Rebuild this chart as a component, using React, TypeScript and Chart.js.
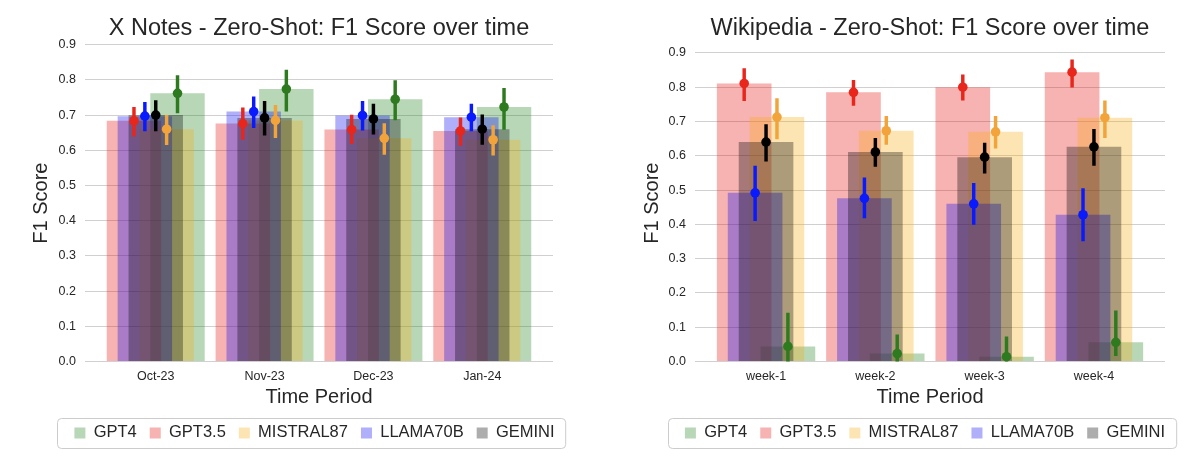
import { useEffect, useRef } from "react"
import { Chart, registerables, type ChartConfiguration, type Plugin } from "chart.js"

Chart.register(...registerables)
Chart.defaults.font.family = "'Liberation Sans', Arial, sans-serif"
Chart.defaults.color = "#262626"

// models, in legend order
const models = ["GPT4", "GPT3.5", "MISTRAL87", "LLAMA70B", "GEMINI"]
const yTicks = [0, 0.1, 0.2, 0.3, 0.4, 0.5, 0.6, 0.7, 0.8, 0.9]

// X Notes panel
const xNotesPeriods = ["Oct-23", "Nov-23", "Dec-23", "Jan-24"]
const xNotesMeans = [
  [0.762, 0.774, 0.745, 0.723], // GPT4
  [0.684, 0.676, 0.659, 0.655], // GPT3.5
  [0.66, 0.685, 0.634, 0.63], // MISTRAL87
  [0.697, 0.71, 0.699, 0.694], // LLAMA70B
  [0.7, 0.692, 0.689, 0.66], // GEMINI
]
const xNotesLows = [
  [0.706, 0.711, 0.686, 0.659],
  [0.64, 0.631, 0.619, 0.614],
  [0.616, 0.636, 0.588, 0.586],
  [0.655, 0.664, 0.657, 0.655],
  [0.655, 0.643, 0.646, 0.617],
]
const xNotesHighs = [
  [0.812, 0.828, 0.798, 0.776],
  [0.722, 0.721, 0.7, 0.692],
  [0.699, 0.728, 0.676, 0.67],
  [0.736, 0.752, 0.739, 0.731],
  [0.741, 0.739, 0.731, 0.701],
]

// Wikipedia panel
const wikiPeriods = ["week-1", "week-2", "week-3", "week-4"]
const wikiMeans = [
  [0.044, 0.023, 0.014, 0.056],
  [0.811, 0.785, 0.8, 0.844],
  [0.713, 0.673, 0.67, 0.711],
  [0.492, 0.476, 0.46, 0.428],
  [0.64, 0.611, 0.596, 0.626],
]
const wikiLows = [
  [-0.05, -0.03, -0.04, 0.017],
  [0.761, 0.747, 0.762, 0.8],
  [0.649, 0.633, 0.622, 0.653],
  [0.411, 0.419, 0.4, 0.352],
  [0.584, 0.569, 0.549, 0.572],
]
const wikiHighs = [
  [0.141, 0.078, 0.072, 0.148],
  [0.854, 0.82, 0.836, 0.88],
  [0.767, 0.715, 0.715, 0.76],
  [0.57, 0.536, 0.52, 0.504],
  [0.691, 0.651, 0.637, 0.677],
]

// styling per model (same order as models)
const barColors = [
  "rgba(30, 130, 30, 0.32)",
  "rgba(230, 20, 20, 0.33)",
  "rgba(250, 175, 20, 0.32)",
  "rgba(20, 20, 240, 0.34)",
  "rgba(0, 0, 0, 0.32)",
]
const pointColors = ["#2e7a1e", "#e8261c", "#f2a33a", "#0a1aff", "#000000"]
const dodge = [0.2, -0.2, 0.1, -0.1, 0]
const drawOrder = [6, 5, 4, 3, 2]

const ink = "#262626"

const legendFrame: Plugin = {
  id: "legendFrame",
  beforeDraw(chart) {
    const boxes = (chart.legend as any)?.legendHitBoxes
    if (!boxes || !boxes.length) return
    const first = boxes[0]
    const last = boxes[boxes.length - 1]
    const left = first.left - 17
    const right = last.left + last.width + 11
    const cy = first.top + first.height / 2
    const ctx = chart.ctx
    ctx.save()
    ctx.beginPath()
    ctx.roundRect(Math.round(left) + 0.5, Math.round(cy - 15) + 0.5, right - left, 30, 4)
    ctx.fillStyle = "#ffffff"
    ctx.fill()
    ctx.strokeStyle = "#cccccc"
    ctx.lineWidth = 1
    ctx.stroke()
    ctx.restore()
  },
}

interface PanelProps {
  title: string
  periods: string[]
  means: number[][]
  lows: number[][]
  highs: number[][]
  yMax: number
  left: number
  width: number
  axisWidth: number
  rightWidth: number
  yTitlePad: number
}

function Panel({ title, periods, means, lows, highs, yMax, left, width, axisWidth, rightWidth, yTitlePad }: PanelProps) {
  const canvasRef = useRef<HTMLCanvasElement>(null)

  useEffect(() => {
    if (!canvasRef.current) return

    const bars = models.map((name, m) => ({
      type: "bar" as const,
      label: name,
      data: periods.map((_, i) => ({ x: i + dodge[m], y: means[m][i] })),
      backgroundColor: barColors[m],
      borderColor: "transparent",
      borderWidth: 0,
      grouped: false,
      barPercentage: 5,
      categoryPercentage: 1,
      order: drawOrder[m],
      clip: 0,
    }))

    const errors = models.map((name, m) => ({
      type: "bar" as const,
      label: name + " ci",
      data: periods.map((_, i) => ({ x: i + dodge[m], y: [lows[m][i], highs[m][i]] })),
      backgroundColor: pointColors[m],
      borderWidth: 0,
      grouped: false,
      barPercentage: 1,
      categoryPercentage: 1,
      maxBarThickness: 2.8,
      order: 1,
      clip: 0,
    }))

    const points = models.map((name, m) => ({
      type: "scatter" as const,
      label: name + " mean",
      data: periods.map((_, i) => ({ x: i + dodge[m], y: means[m][i] })),
      backgroundColor: pointColors[m],
      borderColor: pointColors[m],
      borderWidth: 0,
      pointRadius: 4.8,
      pointHoverRadius: 4.8,
      order: 0,
    }))

    const config: ChartConfiguration = {
      type: "bar",
      data: { datasets: [...bars, ...errors, ...points] as any },
      options: {
        responsive: false,
        animation: false,
        events: [],
        layout: { padding: { left: 0, right: 0, top: 0, bottom: 7.85 } },
        scales: {
          x: {
            type: "linear",
            min: -0.65,
            max: 3.65,
            offset: false,
            grid: { display: false, drawTicks: false, offset: false },
            border: { display: false },
            afterBuildTicks: (s) => {
              s.ticks = periods.map((_, i) => ({ value: i }))
            },
            ticks: {
              padding: 8,
              color: ink,
              font: { size: 12.5 },
              autoSkip: false,
              maxRotation: 0,
              callback: (v) => periods[Math.round(Number(v))] ?? "",
            },
            title: {
              display: true,
              text: "Time Period",
              color: ink,
              font: { size: 20 },
              padding: { top: 0, bottom: 2.25 },
            },
            afterFit: (s) => {
              s.height = 50.15
            },
          },
          x2: {
            type: "linear",
            position: "top",
            min: 0,
            max: 1,
            grid: { display: false, drawTicks: false },
            border: { display: false },
            ticks: { display: false },
            title: {
              display: true,
              text: title,
              color: ink,
              font: { size: 23.5 },
              padding: { top: 14.5, bottom: 0 },
            },
            afterFit: (s) => {
              s.height = 44.7
            },
          },
          y: {
            type: "linear",
            position: "left",
            min: 0,
            max: yMax,
            grid: { color: "#d0d0d0", lineWidth: 1, drawTicks: false },
            border: { display: false },
            afterBuildTicks: (s) => {
              s.ticks = yTicks.map((v) => ({ value: v }))
            },
            ticks: {
              padding: 9,
              color: ink,
              font: { size: 12.5 },
              callback: (v) => Number(v).toFixed(1),
            },
            title: {
              display: true,
              text: "F1 Score",
              color: ink,
              font: { size: 20 },
              padding: { top: yTitlePad, bottom: 0 },
            },
            afterFit: (s) => {
              s.width = axisWidth
            },
          },
          yR: {
            type: "linear",
            position: "right",
            min: 0,
            max: 1,
            grid: { display: false, drawTicks: false },
            border: { display: false },
            ticks: { display: false },
            afterFit: (s) => {
              s.width = rightWidth
            },
          },
        },
        plugins: {
          tooltip: { enabled: false },
          title: { display: false },
          legend: {
            position: "bottom",
            labels: {
              boxWidth: 11,
              boxHeight: 11,
              padding: 13,
              color: ink,
              font: { size: 16.5 },
              filter: (item) => (item.datasetIndex ?? 0) < models.length,
              sort: (a, b) => (a.datasetIndex ?? 0) - (b.datasetIndex ?? 0),
            },
          },
        },
      },
      plugins: [legendFrame],
    }

    const chart = new Chart(canvasRef.current, config)
    return () => chart.destroy()
  }, [title, periods, means, lows, highs, yMax, axisWidth, rightWidth, yTitlePad])

  return (
    <canvas
      ref={canvasRef}
      width={width}
      height={459}
      style={{ position: "absolute", left, top: 0, width, height: 459 }}
    />
  )
}

export default function App() {
  return (
    <div
      style={{
        position: "absolute",
        left: 0,
        top: 0,
        width: 1200,
        height: 459,
        overflow: "hidden",
        background: "#ffffff",
      }}
    >
      <Panel
        title="X Notes - Zero-Shot: F1 Score over time"
        periods={xNotesPeriods}
        means={xNotesMeans}
        lows={xNotesLows}
        highs={xNotesHighs}
        yMax={0.9}
        left={0}
        width={629}
        axisWidth={85}
        rightWidth={76}
        yTitlePad={29.7}
      />
      <Panel
        title="Wikipedia - Zero-Shot: F1 Score over time"
        periods={wikiPeriods}
        means={wikiMeans}
        lows={wikiLows}
        highs={wikiHighs}
        yMax={0.924}
        left={600}
        width={650}
        axisWidth={95}
        rightWidth={85}
        yTitlePad={40.5}
      />
    </div>
  )
}
